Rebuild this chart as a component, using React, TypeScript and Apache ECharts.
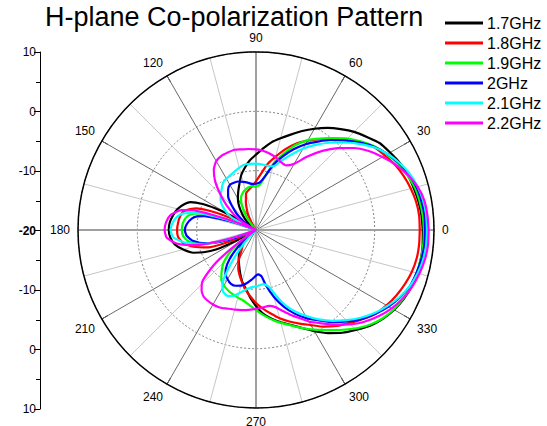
import React, { useEffect, useRef } from 'react';
import * as echarts from 'echarts';

const FONT = '"Liberation Sans", Arial, sans-serif';
const TITLE = 'H-plane Co-polarization Pattern';
const SERIES_NAMES = ['1.7GHz', '1.8GHz', '1.9GHz', '2GHz', '2.1GHz', '2.2GHz'];
const COLORS = ['#000000', '#ff0000', '#00ff00', '#0000ff', '#00ffff', '#ff00ff'];
const RADIUS_MIN = -20;
const RADIUS_MAX = 10;

// [angle (deg), gain (dB)]
const F17: [number, number][] = [
  [0, 8.1], [5, 8.0], [10, 7.8], [15, 7.5], [20, 7.2], [25, 6.75], [30, 6.1], [35, 5.5], [40, 4.4], [45, 3.4],
  [50, 2.2], [55, 1.0], [60, -0.3], [65, -1.6], [70, -2.9], [75, -4.0], [80, -5.0], [85, -6.2], [90, -7.3],
  [95, -8.2], [100, -9.3], [105, -10.4], [110, -11.8], [115, -12.9], [120, -13.9], [125, -15], [130, -16.3],
  [135, -17.4], [140, -18.7], [144, -20], [148, -18], [150, -15], [152, -12.2], [154, -10], [157, -8.0],
  [160, -7.2], [165, -6.3], [170, -5.8], [175, -5.4], [180, -5.3], [185, -5.5], [190, -6.1], [195, -7.3],
  [200, -8.8], [203, -10.4], [206, -12.5], [208, -15.5], [211, -20], [215, -19], [220, -17.5], [225, -16.5],
  [230, -15.8], [235, -15.0], [240, -14.2], [245, -13.3], [250, -12.2], [255, -11.0], [260, -10.0], [265, -8.6],
  [270, -7.2], [275, -5.8], [280, -4.8], [285, -3.9], [290, -3.0], [295, -1.8], [300, -0.3], [305, 1.2],
  [310, 2.6], [315, 3.8], [320, 5.1], [325, 6.1], [330, 6.9], [335, 7.5], [340, 7.9], [345, 8.1], [350, 8.2],
  [355, 8.2], [360, 8.1],
];

const F18: [number, number][] = [
  [0, 7.6], [5, 7.6], [10, 7.4], [15, 7.0], [20, 6.5], [25, 5.9], [30, 5.1], [35, 4.3], [40, 3.0], [45, 1.5],
  [50, 0.1], [55, -1.3], [60, -2.6], [65, -3.9], [70, -5.5], [75, -7.2], [80, -8.7], [85, -10.5], [90, -11.8],
  [95, -12.6], [100, -13.1], [105, -13.6], [110, -15], [115, -16.5], [118, -17.5], [122, -19], [126, -20],
  [152, -20], [154, -17], [156, -13.5], [158, -11], [160, -9.3], [165, -7.5], [170, -7.0], [175, -6.8],
  [180, -6.7], [185, -6.8], [190, -7.5], [195, -9.1], [200, -11.4], [203, -14.5], [204, -17.5], [205, -20],
  [215, -20], [220, -18.5], [225, -17.2], [230, -16.5], [235, -15.7], [240, -14.2], [245, -12.9], [250, -11.9],
  [255, -10.9], [260, -9.8], [265, -8.8], [270, -7.7], [275, -6.7], [280, -5.7], [285, -4.6], [290, -3.6],
  [295, -2.6], [300, -1.5], [305, -0.1], [310, 1.1], [315, 2.2], [320, 3.4], [325, 4.6], [330, 5.4],
  [335, 6.1], [340, 6.7], [345, 7.2], [350, 7.5], [355, 7.6], [360, 7.6],
];

const F19: [number, number][] = [
  [0, 8.3], [5, 8.2], [10, 8.0], [15, 7.7], [20, 7.1], [25, 6.4], [30, 5.5], [35, 4.5], [40, 3.2], [45, 1.8],
  [50, 0.2], [55, -1.2], [60, -2.5], [65, -4.2], [70, -6.3], [75, -8.3], [80, -10.6], [85, -12.3], [90, -12.7],
  [95, -12.6], [100, -12.7], [105, -13.0], [110, -13.4], [115, -14.0], [120, -15.3], [125, -17], [130, -19],
  [134, -20], [156, -20], [158, -17.5], [160, -15], [162, -12.5], [164, -9.8], [167, -8.6], [170, -8.0],
  [175, -7.6], [180, -7.5], [185, -7.7], [190, -8.6], [193, -9.8], [196, -11.8], [199, -14.5], [202, -18],
  [204, -20], [212, -20], [216, -17], [220, -14.5], [225, -12.3], [230, -11], [235, -9.8], [240, -9.2],
  [245, -8.8], [250, -8.5], [255, -8.2], [260, -7.9], [265, -7.3], [270, -6.5], [275, -5.6], [280, -4.7],
  [285, -3.8], [290, -2.9], [295, -1.8], [300, -0.6], [305, 0.6], [310, 2.0], [315, 3.5], [320, 4.9],
  [325, 6.0], [330, 6.8], [335, 7.4], [340, 7.8], [345, 8.0], [350, 8.2], [355, 8.3], [360, 8.3],
];

const F20: [number, number][] = [
  [0, 8.5], [5, 8.5], [10, 8.3], [15, 8.0], [20, 7.4], [25, 6.6], [30, 5.6], [35, 4.4], [40, 2.9], [45, 1.3],
  [50, -0.2], [55, -1.8], [60, -3.3], [65, -5.0], [70, -6.8], [75, -8.6], [80, -10.7], [85, -11.9], [90, -12.2],
  [95, -12.2], [100, -11.9], [105, -11.6], [110, -11.3], [115, -11.2], [120, -11.2], [125, -11.8], [130, -12.7],
  [135, -14.3], [140, -15.8], [145, -17.5], [150, -19], [155, -20], [159, -20], [161, -16.5], [163, -13.5],
  [165, -11], [167, -9.8], [170, -9.0], [175, -8.3], [180, -8.0], [185, -8.3], [190, -9.3], [195, -11.3],
  [198, -13.5], [201, -16.5], [203, -20], [215, -20], [220, -17.5], [225, -14.8], [230, -12.4], [235, -11.0],
  [240, -10.4], [245, -10.0], [250, -10.0], [255, -10.3], [260, -10.9], [265, -11.6], [270, -12.3], [273, -12.5],
  [277, -12.1], [280, -10.6], [285, -8.3], [290, -6.2], [295, -4.4], [300, -2.8], [305, -1.4], [310, 0.3],
  [315, 1.8], [320, 3.3], [325, 4.6], [330, 5.8], [335, 6.8], [340, 7.6], [345, 8.0], [350, 8.3], [355, 8.5],
  [360, 8.5],
];

const F21: [number, number][] = [
  [0, 8.8], [5, 8.8], [10, 8.6], [15, 8.2], [20, 7.6], [25, 6.7], [30, 5.6], [35, 4.3], [40, 2.6], [45, 0.9],
  [50, -0.8], [55, -2.5], [60, -4.2], [65, -6.0], [70, -7.6], [75, -8.9], [80, -9.0], [85, -8.9], [90, -8.8],
  [95, -8.8], [100, -8.8], [105, -9.1], [110, -9.5], [115, -9.8], [120, -10.0], [125, -10.3], [130, -11.0],
  [135, -11.6], [140, -12.2], [145, -13.2], [150, -14.5], [153, -15.5], [156, -18], [158, -20], [160, -16],
  [162, -12.5], [164, -9.5], [167, -7.5], [170, -6.6], [175, -5.9], [180, -5.6], [185, -6.0], [190, -7.8],
  [195, -11.0], [198, -15.0], [201, -20], [222, -20], [228, -17], [232, -14], [235, -11.5], [238, -9.3],
  [242, -8.2], [247, -7.9], [252, -8.4], [257, -9.3], [262, -10.0], [267, -10.4], [272, -10.6], [278, -10.8],
  [283, -10.1], [288, -7.9], [292, -6.1], [295, -5.0], [300, -3.3], [305, -1.6], [310, 0.0], [315, 1.5],
  [320, 3.0], [325, 4.4], [330, 5.6], [335, 6.7], [340, 7.6], [345, 8.2], [350, 8.6], [355, 8.8], [360, 8.8],
];

const F22: [number, number][] = [
  [0, 9.1], [5, 9.0], [10, 8.8], [15, 8.2], [20, 7.2], [25, 6.0], [30, 4.6], [35, 3.2], [40, 1.5], [45, -0.5],
  [50, -2.6], [55, -4.9], [60, -7.1], [65, -8.0], [70, -7.8], [75, -7.3], [80, -6.9], [85, -6.6], [90, -6.4],
  [95, -6.3], [100, -6.2], [105, -6.0], [110, -6.1], [115, -6.2], [120, -6.6], [125, -7.6], [130, -9.3],
  [135, -11.5], [140, -13.5], [145, -15.5], [150, -17.5], [155, -20], [157, -20], [159, -16], [161, -12],
  [162.5, -9], [165, -7], [170, -5.4], [175, -4.8], [180, -4.6], [185, -4.9], [190, -6.6], [193, -8.7],
  [195, -10.5], [197, -13.5], [199, -16.5], [201, -20], [212, -20], [216, -17], [218, -13], [220, -10.5],
  [224, -7.4], [228, -6.3], [232, -5.7], [240, -5.5], [245, -5.6], [250, -5.9], [255, -6.1], [260, -6.3],
  [265, -6.5], [270, -6.7], [275, -6.9], [280, -7.0], [284, -6.6], [288, -5.7], [292, -4.6], [295, -3.8],
  [300, -2.2], [305, -0.8], [310, 0.8], [315, 2.5], [320, 4.0], [325, 5.3], [330, 6.4], [335, 7.3], [340, 8.0],
  [345, 8.5], [350, 8.9], [355, 9.1], [360, 9.1],
];

const SERIES_DATA = [F17, F18, F19, F20, F21, F22];

export default function App() {
  const ref = useRef<HTMLDivElement>(null);
  useEffect(() => {
    if (!ref.current) return;
    const chart = echarts.init(ref.current, undefined, { renderer: 'svg' });
    const option: any = {
      animation: false,
      backgroundColor: '#ffffff',
      textStyle: { fontFamily: FONT },
      title: {
        text: TITLE,
        left: 45,
        top: 3,
        padding: 0,
        textStyle: { fontSize: 27, fontWeight: 'normal', color: '#000', fontFamily: FONT },
      },
      legend: {
        orient: 'vertical',
        left: 445,
        top: 15,
        padding: 0,
        itemWidth: 38,
        itemHeight: 3,
        itemGap: 4,
        icon: 'rect',
        data: SERIES_NAMES,
        textStyle: { fontSize: 16, color: '#000', fontFamily: FONT, padding: [0, 0, 0, -1] },
      },
      polar: [
        { center: [256, 230], radius: 178 },
        { center: [256, 230], radius: 178 },
      ],
      angleAxis: [
        {
          polarIndex: 0,
          type: 'value',
          min: 0,
          max: 360,
          interval: 30,
          startAngle: 0,
          clockwise: false,
          axisLine: { show: true, lineStyle: { color: '#000', width: 1.5 } },
          axisTick: { show: true, inside: true, length: 7, lineStyle: { color: '#000', width: 1 } },
          axisLabel: {
            margin: 8,
            fontSize: 12,
            color: '#000',
            fontFamily: FONT,
            formatter: (v: number) => (v === 360 ? '' : String(v)),
          },
          splitLine: { show: true, lineStyle: { color: '#6a6a6a', width: 1 } },
          minorTick: { show: false, splitNumber: 2 },
          minorSplitLine: { show: true, lineStyle: { color: '#c6c6c6', width: 1 } },
        },
        {
          polarIndex: 1,
          type: 'value',
          min: 0,
          max: 360,
          interval: 90,
          startAngle: 0,
          clockwise: false,
          axisLine: { show: false },
          axisTick: { show: false },
          axisLabel: { show: false },
          splitLine: { show: true, lineStyle: { color: '#a0a0a0', width: 2 } },
        },
      ],
      radiusAxis: [
        {
          polarIndex: 0,
          type: 'value',
          min: RADIUS_MIN,
          max: RADIUS_MAX,
          interval: 10,
          axisLine: { show: false },
          axisTick: { show: false },
          axisLabel: { show: false },
          splitLine: { show: true, lineStyle: { color: '#808080', type: [2, 2], width: 1 } },
        },
        {
          polarIndex: 1,
          type: 'value',
          min: RADIUS_MIN,
          max: RADIUS_MAX,
          axisLine: { show: false },
          axisTick: { show: false },
          axisLabel: { show: false },
          splitLine: { show: false },
        },
      ],
      grid: { left: 40, top: 52, width: 1, height: 357 },
      xAxis: { type: 'value', show: false, min: 0, max: 1 },
      yAxis: {
        type: 'value',
        min: -30,
        max: 30,
        interval: 10,
        position: 'left',
        axisLine: { show: true, lineStyle: { color: '#000', width: 1 } },
        axisTick: { show: true, length: 6, lineStyle: { color: '#000' } },
        minorTick: { show: true, splitNumber: 2, length: 4, lineStyle: { color: '#000' } },
        splitLine: { show: false },
        axisLabel: {
          margin: 4,
          fontSize: 12,
          color: '#000',
          fontFamily: FONT,
          formatter: (v: number) => {
            const t = Math.abs(v) + RADIUS_MIN;
            return v === 0 ? '{b|' + t + '}' : String(t);
          },
          rich: { b: { fontWeight: 'bold', fontSize: 12, color: '#000', fontFamily: FONT } },
        },
      },
      series: SERIES_DATA.map((s, i) => ({
        type: 'line',
        name: SERIES_NAMES[i],
        coordinateSystem: 'polar',
        polarIndex: 0,
        data: s.map(([a, v]) => [v, a]),
        showSymbol: false,
        smooth: 0.2,
        lineStyle: { color: COLORS[i], width: 2.2 },
        itemStyle: { color: COLORS[i] },
      })),
    };
    chart.setOption(option);
    return () => chart.dispose();
  }, []);
  return (
    <div
      ref={ref}
      style={{ position: 'fixed', left: 0, top: 0, width: 547, height: 426, background: '#fff' }}
    />
  );
}
